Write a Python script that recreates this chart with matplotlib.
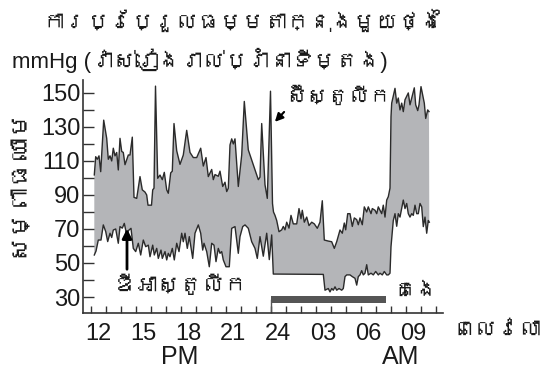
import numpy as np
import matplotlib
matplotlib.use('Agg')
import matplotlib.pyplot as plt
from matplotlib import font_manager
from matplotlib.ft2font import FT2Font

# find a font with khmer glyphs, if any
khmer_font = None
for f in font_manager.fontManager.ttflist:
    try:
        if 0x1780 in FT2Font(f.fname).get_charmap():
            khmer_font = f.name
            break
    except Exception:
        pass
families = ['Liberation Sans'] + ([khmer_font] if khmer_font else []) + ['DejaVu Sans']
plt.rcParams['font.family'] = families

# ---- data (pixel readings converted to hours / mmHg) ----
# upper line (systolic): x pixel, value
sys_px = [94.3, 95.7, 97.3, 99, 100.7, 103.7, 106.7, 108.3, 110, 111.7, 113.3, 115, 116.7, 118.3, 120,
          121.7, 123.3, 125, 128.3, 130, 132.3, 134, 136.7, 140, 142.3, 145, 146.7, 148, 151.5, 152.7,
          154, 155.5, 157.7, 160, 162.3, 164.3, 166.7, 168.3, 170.7, 172.3, 174, 176.7, 180, 183.3,
          186.7, 190, 193.3, 196.7, 200.7, 203.3, 206, 208.3, 211.7, 213.3, 215, 218.3, 220, 222.7,
          225, 226.7, 228.3, 230, 231.7, 233.3, 235, 238.3, 241.7, 244.3, 248.3, 258.3, 260, 261.7,
          265, 267.3, 270.5, 272.5, 273.5, 275, 276.7, 279, 281.7, 283.3, 285, 286.7, 289, 291, 293.3,
          296.7, 299, 301, 302.3, 304.3, 306.7, 309, 311.7, 314.3, 317.3, 320, 322.3, 324.3, 328.3,
          331.7, 334.3, 336.7, 340, 342.3, 344.3, 345.7, 347.7, 350, 352.3, 354.3, 356.7, 358.3, 360,
          362.3, 364.3, 366.7, 368.3, 371, 372.3, 375, 376.7, 378.3, 380, 381.7, 383.3, 385, 386.7,
          388.3, 390, 391, 391.7, 395, 396.7, 398.3, 400, 401.7, 403.3, 405, 406.7, 408.3, 410, 411.7,
          414.3, 415.7, 417.7, 419, 421, 422.3, 424.3, 425.7, 427.7, 429]
sys_val = [101.8, 112.5, 111, 113, 103.7, 134, 123.3, 111, 113, 110, 117.5, 113, 115, 104.7, 123.3,
           115.6, 115, 107.8, 113.5, 113.5, 124, 88.6, 88, 100.8, 93, 91.7, 90, 84, 84, 93,
           94, 154, 99.8, 101.7, 99, 103.3, 93, 91, 103, 104, 132, 116, 108, 113.5,
           128, 115, 112, 112, 117.5, 107, 112, 100.8, 105, 99, 102, 101, 104, 95,
           97.5, 92, 94, 119.4, 123, 120, 123, 95, 113.5, 145, 116.5, 99, 100.5, 132,
           96, 88, 151, 85, 80, 78, 75, 68.4, 69.5, 71.5, 69.5, 74, 70.5, 78, 73,
           73, 82, 76, 81, 74, 77, 72, 74, 73, 70.4, 74, 86.6, 63.5, 62.9,
           62.5, 58.6, 62.5, 69.4, 67.5, 73.5, 69.5, 79, 79, 71.5, 76.5, 75.5, 72.5, 76.5,
           72.5, 83, 80, 83, 79, 82, 81, 79, 83, 81, 79, 84, 77, 87,
           89, 94, 136, 144, 152.7, 144, 147, 140, 144, 139, 146, 148, 150, 143, 147,
           153, 143, 139.6, 143, 153.7, 150, 144, 135, 140, 139]

# lower line (diastolic)
dia_px = [94.3, 96, 98.3, 101, 103.3, 105.7, 107.7, 110, 111.7, 113.3, 115.7, 118.3, 120, 122.3, 124.3,
          126.7, 128.3, 131, 133.3, 135.7, 138.3, 140.7, 143.3, 145.7, 148.3, 150, 152.7, 154.3, 156.7,
          158.3, 161, 162.3, 165, 166.7, 168.3, 170, 172.3, 174.3, 176.7, 179, 181.7, 183.3, 185, 187.3,
          189.3, 192.7, 195, 198.3, 200.7, 202.7, 204, 206.7, 209.3, 211.7, 214, 216, 218.3, 220, 221.7,
          223.3, 226, 229.3, 231.7, 235, 238.3, 240, 242.7, 245, 248.3, 251.7, 255, 257.3, 260, 263.3,
          266.7, 269.3, 271.7, 273.3, 323.3, 325, 328.3, 330, 331.7, 333.3, 335, 336.7, 339, 341.7,
          343.3, 345, 346.7, 350, 352.3, 355, 356.7, 358.3, 360, 361.7, 363.3, 365, 366.7, 368.3, 371,
          373.3, 375.7, 378.3, 380, 382.3, 384.3, 386.7, 388.3, 390, 391, 392.5, 393.3, 395, 396.7,
          398.3, 400, 401.7, 403.3, 405, 406.7, 408.3, 410, 411.7, 413.3, 415, 416.7, 418.3, 420,
          421.7, 423.3, 425, 426.7, 428.3, 429.3]
dia_val = [54.7, 57, 63.5, 63.5, 72.4, 68.5, 62.6, 67.5, 65, 69.4, 70, 61.6, 71.4, 70.5, 73.3,
           66.5, 69, 70.4, 58.6, 56.7, 61.6, 54.7, 63.5, 59.6, 60.5, 53.7, 60.5, 54.7, 58.6,
           52.7, 57.6, 52.7, 56.7, 51.8, 55.7, 53.7, 58.6, 51.8, 61.6, 56.7, 67.5, 62.5, 67.5, 58.6,
           65.5, 52.7, 67.5, 72.4, 67.5, 57.6, 61.6, 56.7, 47.8, 61.6, 60.5, 50.8, 58.6, 55.7, 56.7,
           51.8, 47.8, 47.8, 70.4, 71.4, 55.7, 65.5, 71.4, 72.4, 70.4, 62.5, 58.6, 52.7, 65.5, 54,
           67.5, 52, 66.5, 43.5, 43.3, 34, 35, 33, 35, 34, 36, 34, 35, 34,
           35, 42, 43, 43, 42, 41, 37, 42, 43, 45.5, 43, 44, 49, 43, 44,
           43, 45, 43, 44, 43, 45, 43, 43, 44, 59.6, 70, 75, 79, 71.6,
           79, 77, 82, 87, 82, 85, 79, 77, 79, 78, 84, 79, 79, 85,
           83, 71.4, 77, 67.5, 75, 74]


def px2h(x):
    return 12 + (np.asarray(x) - 98) / 15.0


sys_t = px2h(sys_px)
dia_t = px2h(dia_px)

hour_ticks = [12, 15, 18, 21, 24, 27, 30, 33]
hour_labels = ['12', '15', '18', '21', '24', '03', '06', '09']
sleep_start, sleep_end = px2h(271), px2h(386)

line_c = '#2b2b2b'
fill_c = '#b4b5b8'
txt_c = '#1a1a1a'

fig = plt.figure(figsize=(5.52, 3.76), dpi=100)
ax = fig.add_axes([83 / 552, 63 / 376, 360 / 552, 233 / 376])

# gray band between the lines
ax.fill(np.concatenate([sys_t, dia_t[::-1]]), np.concatenate([sys_val, dia_val[::-1]]),
        color=fill_c, lw=0)
ax.plot(sys_t, sys_val, color=line_c, lw=1.0)
ax.plot(dia_t, dia_val, color=line_c, lw=1.0)

# sleep bar
ax.fill_between([sleep_start, sleep_end], 26.6, 30.6, color='#555555', lw=0)
ax.plot([sleep_start, sleep_start], [20.6, 28], color='#555555', lw=1.0)

ax.set_xlim(11, 35)
ax.set_ylim(20.6, 157.6)
for s in ['top', 'right']:
    ax.spines[s].set_visible(False)
for s in ['left', 'bottom']:
    ax.spines[s].set_color('#333333')
    ax.spines[s].set_linewidth(1.2)

ax.set_yticks(np.arange(30, 151, 20))
ax.set_yticks(np.arange(40, 141, 20), minor=True)
ax.set_xticks(hour_ticks)
ax.set_xticklabels(hour_labels)
ax.set_xticks(np.arange(11.5, 35, 1), minor=True)
ax.tick_params(axis='y', which='both', direction='in', length=8, width=1, color='#333333',
               labelsize=17, pad=2, labelcolor=txt_c)
ax.tick_params(axis='x', which='major', length=0, labelsize=17, pad=7, labelcolor=txt_c)
ax.tick_params(axis='x', which='minor', direction='in', length=5, width=1, color='#333333')

# annotations
ax.annotate('', xy=(px2h(127), 71.8), xytext=(px2h(127), 44.7),
            arrowprops=dict(arrowstyle='-|>', color='black', lw=2, mutation_scale=14))
ax.annotate('', xy=(px2h(273), 131.8), xytext=(px2h(286), 140),
            arrowprops=dict(arrowstyle='-|>', color='black', lw=1.5, mutation_scale=12))


def fx(x, y):
    return x / 552, 1 - y / 376


fig.text(*fx(243, 22), 'ការប្រែប្រួលធម្មតាក្នុងមួយថ្ងៃ', ha='center', va='center', fontsize=16, color=txt_c)
fig.text(*fx(12, 60), 'mmHg (វាស់រៀងរាល់ប្រាំនាទីម្តង)', ha='left', va='center', fontsize=16, color=txt_c)
fig.text(*fx(18, 182), 'សម្ពាធឈាម', ha='center', va='center', rotation=90, fontsize=18, color=txt_c)
fig.text(*fx(286, 97), 'ស៊ីស្តូលីក', ha='left', va='center', fontsize=15, color=txt_c)
fig.text(*fx(181, 286), 'ឌីអាស្តូលីក', ha='center', va='center', fontsize=16, color=txt_c)
fig.text(*fx(416, 291), 'គេង', ha='center', va='center', fontsize=16, color=txt_c)
fig.text(*fx(497, 330), 'ពេលវេលា', ha='center', va='center', fontsize=16, color=txt_c)
fig.text(*fx(180, 357), 'PM', ha='center', va='center', fontsize=18, color=txt_c)
fig.text(*fx(401, 357), 'AM', ha='center', va='center', fontsize=18, color=txt_c)

fig.savefig('out.png', dpi=100)
